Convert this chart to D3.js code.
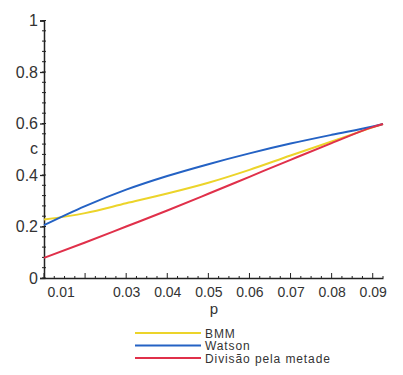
<!DOCTYPE html>
<html>
<head>
<meta charset="utf-8">
<script src="https://cdn.jsdelivr.net/npm/d3@7"></script>
<style>
  body { margin: 0; background: #fff; }
  text { font-family: "Liberation Sans", Arial, sans-serif; fill: #333; }
</style>
</head>
<body>
<div id="chart"></div>
<script>
// c versus p for three methods

const pValues = [0.01, 0.02, 0.03, 0.04, 0.05, 0.06, 0.07, 0.08, 0.09, 0.0925];
const bmm    = [0.227, 0.252, 0.29, 0.328, 0.37, 0.42, 0.476, 0.53, 0.585, 0.598];
const watson = [0.205, 0.279, 0.343, 0.396, 0.442, 0.484, 0.522, 0.556, 0.588, 0.598];
const metade = [0.078, 0.138, 0.2, 0.262, 0.327, 0.393, 0.459, 0.524, 0.586, 0.598];

const xTicks = [0.01, 0.03, 0.04, 0.05, 0.06, 0.07, 0.08, 0.09];
const yTicks = [0, 0.2, 0.4, 0.6, 0.8, 1];

const seriesNames = ["BMM", "Watson", "Divisão pela metade"];
const seriesColors = ["#ecd42a", "#2462c4", "#e0304a"];

const width = 403, height = 375;

const svg = d3.select("#chart").append("svg")
    .attr("width", width)
    .attr("height", height);

const x = d3.scaleLinear().domain([0.01, 0.0925]).range([44, 383]);
const y = d3.scaleLinear().domain([0, 1]).range([278, 20.5]);

// y axis
const yAxis = svg.append("g")
    .attr("transform", "translate(44,0)")
    .call(d3.axisLeft(y).tickValues(yTicks).tickSize(4).tickFormat(d => d === 0 ? "0" : d3.format("")(d)));
yAxis.select(".domain").attr("stroke", "#222").attr("stroke-width", 1.5);
yAxis.selectAll(".tick line").attr("stroke", "#222").attr("stroke-width", 1.3);
yAxis.selectAll("text").attr("font-size", 16).attr("fill", "#333").attr("x", -6);

// y minor ticks
svg.append("g").selectAll("line")
    .data(d3.range(0, 1.001, 0.04))
    .enter().append("line")
    .attr("x1", 42).attr("x2", 46)
    .attr("y1", d => y(d)).attr("y2", d => y(d))
    .attr("stroke", "#222").attr("stroke-width", 1);

// x axis
const xAxis = svg.append("g")
    .attr("transform", "translate(0,278)")
    .call(d3.axisBottom(x).tickValues(xTicks).tickSize(0).tickPadding(9).tickFormat(d3.format(".2f")));
xAxis.select(".domain").attr("stroke", "#222").attr("stroke-width", 1.5);
xAxis.selectAll("text").attr("font-size", 14).attr("fill", "#333")
    .filter(d => d === 0.01).attr("text-anchor", "start").attr("dx", 3);

// x minor ticks (above the axis)
svg.append("g").selectAll("line")
    .data(d3.range(0.01, 0.0926, 0.0025))
    .enter().append("line")
    .attr("x1", d => x(d)).attr("x2", d => x(d))
    .attr("y1", d => Math.abs(Math.round(d * 100) - d * 100) < 1e-6 ? 273 : 276).attr("y2", 278)
    .attr("stroke", "#222").attr("stroke-width", 1);

// axis titles
svg.append("text").attr("x", 34).attr("y", 154).attr("text-anchor", "middle")
    .attr("font-size", 16).text("c");
svg.append("text").attr("x", 214).attr("y", 314).attr("text-anchor", "middle")
    .attr("font-size", 15).text("p");

// lines
const line = d3.line()
    .x(d => x(d[0]))
    .y(d => y(d[1]))
    .curve(d3.curveMonotoneX);

[bmm, watson, metade].forEach((vals, i) => {
    svg.append("path")
        .datum(pValues.map((p, j) => [p, vals[j]]))
        .attr("fill", "none")
        .attr("stroke", seriesColors[i])
        .attr("stroke-width", 2)
        .attr("d", line);
});

// legend
const legend = svg.append("g");
seriesNames.forEach((name, i) => {
    const ly = 333 + i * 12.5;
    legend.append("line")
        .attr("x1", 135).attr("x2", 201)
        .attr("y1", ly).attr("y2", ly)
        .attr("stroke", seriesColors[i]).attr("stroke-width", 2);
    legend.append("text")
        .attr("x", 205).attr("y", ly + 4.5)
        .attr("font-size", 12)
        .attr("letter-spacing", 0.9)
        .text(name);
});
</script>
</body>
</html>
